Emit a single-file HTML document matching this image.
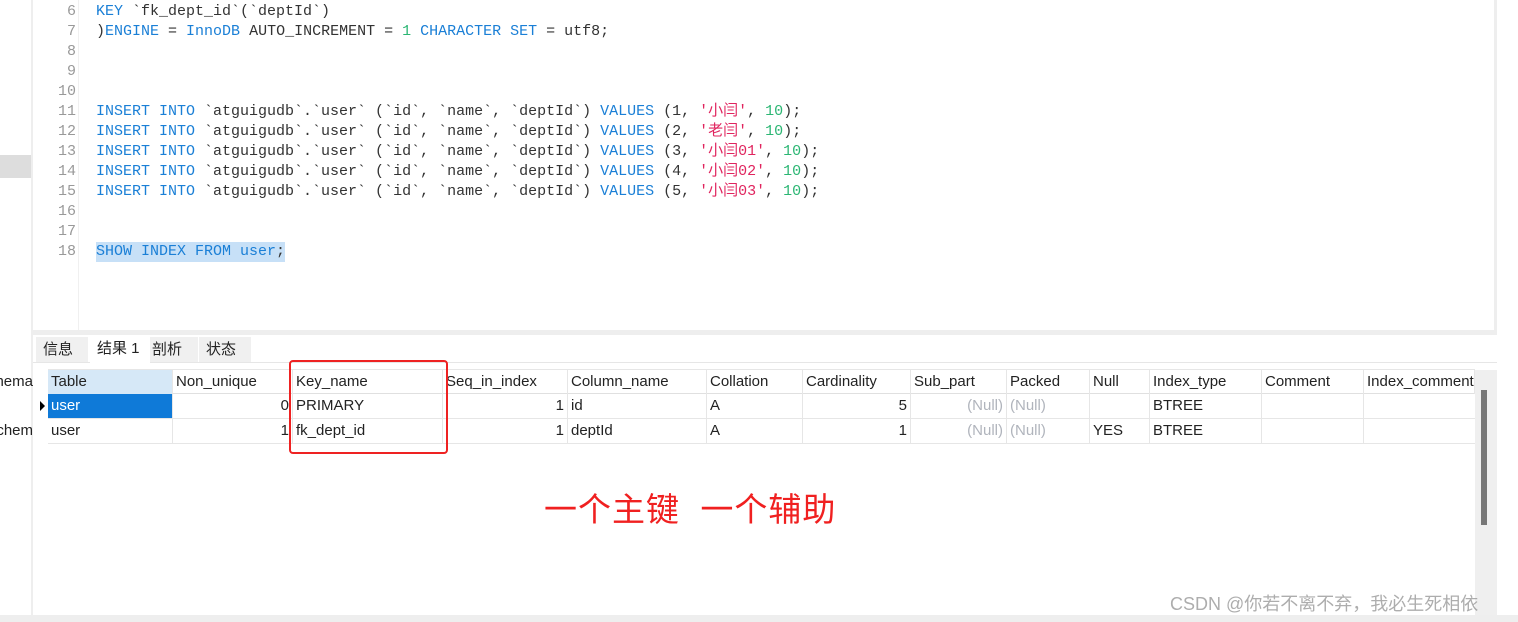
<!DOCTYPE html>
<html><head><meta charset="utf-8"><style>
body{margin:0;width:1518px;height:622px;background:#fff;position:relative;overflow:hidden;font-family:"Liberation Sans","Noto Sans CJK SC",sans-serif}
.a{position:absolute}
.code{font-family:"Liberation Mono","Noto Sans CJK SC",monospace;font-size:15px;line-height:20px;white-space:pre;color:#333}
.k{color:#1a7fd6}.n{color:#2bb673}.s{color:#e0245e}
.ln{font-family:"Liberation Mono",monospace;font-size:15px;line-height:20px;color:#999;text-align:right;width:44px}
.g{font-size:15px;color:#222;white-space:nowrap}
.c{position:absolute;height:24px;line-height:24px;padding:0 3px;box-sizing:border-box;border-right:1px solid #e6e6e6}
.nl{color:#b0b4bc}
</style></head><body>
<div class="a" style="left:0;top:155px;width:31px;height:23px;background:#ddd"></div>
<div class="a" style="left:31px;top:0;width:2px;height:622px;background:#eee"></div>
<div class="a" style="left:1494px;top:0;width:3px;height:335px;background:#eee"></div>
<div class="a ln" style="left:32px;top:2px">6<br>7<br>8<br>9<br>10<br>11<br>12<br>13<br>14<br>15<br>16<br>17<br>18</div>
<div class="a" style="left:78px;top:0;width:1px;height:330px;background:#f0f0f0"></div>
<div class="a" style="left:96px;top:242px;width:189px;height:20px;background:#c7e0f7"></div>
<div class="a code" style="left:96px;top:2px"><span class="k">KEY</span> `fk_dept_id`(`deptId`)
)<span class="k">ENGINE</span> = <span class="k">InnoDB</span> AUTO_INCREMENT = <span class="n">1</span> <span class="k">CHARACTER SET</span> = utf8;



<span class="k">INSERT INTO</span> `atguigudb`.`user` (`id`, `name`, `deptId`) <span class="k">VALUES</span> (1, <span class="s">'小闫'</span>, <span class="n">10</span>);
<span class="k">INSERT INTO</span> `atguigudb`.`user` (`id`, `name`, `deptId`) <span class="k">VALUES</span> (2, <span class="s">'老闫'</span>, <span class="n">10</span>);
<span class="k">INSERT INTO</span> `atguigudb`.`user` (`id`, `name`, `deptId`) <span class="k">VALUES</span> (3, <span class="s">'小闫01'</span>, <span class="n">10</span>);
<span class="k">INSERT INTO</span> `atguigudb`.`user` (`id`, `name`, `deptId`) <span class="k">VALUES</span> (4, <span class="s">'小闫02'</span>, <span class="n">10</span>);
<span class="k">INSERT INTO</span> `atguigudb`.`user` (`id`, `name`, `deptId`) <span class="k">VALUES</span> (5, <span class="s">'小闫03'</span>, <span class="n">10</span>);


<span class="k">SHOW INDEX FROM user</span>;</div>
<div class="a" style="left:33px;top:330px;width:1464px;height:5px;background:#eee"></div>
<div class="a" style="left:33px;top:335px;width:1464px;height:27px;background:#fff;border-bottom:1px solid #e6e6e6"></div>
<div class="a g" style="left:36px;top:337px;width:52px;height:25px;background:#f0f0f0;line-height:26px;padding-left:7px;box-sizing:border-box">信息</div>
<div class="a g" style="left:90px;top:336px;width:60px;height:27px;background:#fff;line-height:26px;padding-left:7px;box-sizing:border-box">结果 1</div>
<div class="a g" style="left:150px;top:337px;width:48px;height:25px;background:#f0f0f0;line-height:26px;padding-left:2px;box-sizing:border-box">剖析</div>
<div class="a g" style="left:199px;top:337px;width:52px;height:25px;background:#f0f0f0;line-height:26px;padding-left:7px;box-sizing:border-box">状态</div>
<div class="a g" style="left:0;top:370px;line-height:24px;width:33px;overflow:hidden;direction:rtl">schema</div>
<div class="a g" style="left:0;top:419px;line-height:24px;width:33px;overflow:hidden;direction:rtl">schem</div>
<div class="a" style="left:33px;top:363px;width:1444px;height:253px;background:#fff"></div>
<div class="a" style="left:1475px;top:370px;width:22px;height:246px;background:#efefef"></div>
<div class="a" style="left:1481px;top:390px;width:6px;height:135px;background:#777"></div>
<div class="a" style="left:0;top:615px;width:1518px;height:7px;background:#eee"></div>
<div class="a g" style="left:0;top:0">
<div class="a" style="left:48px;top:369px;width:1427px;height:1px;background:#e6e6e6"></div>
<div class="a" style="left:48px;top:393px;width:1427px;height:1px;background:#e0e0e0"></div>
<div class="a" style="left:48px;top:418px;width:1427px;height:1px;background:#e6e6e6"></div>
<div class="a" style="left:48px;top:443px;width:1427px;height:1px;background:#e6e6e6"></div>
<div class="c" style="left:48px;top:370px;width:125px;background:#d6e8f7">Table</div>
<div class="c" style="left:173px;top:370px;width:120px">Non_unique</div>
<div class="c" style="left:293px;top:370px;width:150px">Key_name</div>
<div class="c" style="left:443px;top:370px;width:125px">Seq_in_index</div>
<div class="c" style="left:568px;top:370px;width:139px">Column_name</div>
<div class="c" style="left:707px;top:370px;width:96px">Collation</div>
<div class="c" style="left:803px;top:370px;width:108px">Cardinality</div>
<div class="c" style="left:911px;top:370px;width:96px">Sub_part</div>
<div class="c" style="left:1007px;top:370px;width:83px">Packed</div>
<div class="c" style="left:1090px;top:370px;width:60px">Null</div>
<div class="c" style="left:1150px;top:370px;width:112px">Index_type</div>
<div class="c" style="left:1262px;top:370px;width:102px">Comment</div>
<div class="c" style="left:1364px;top:370px;width:111px;overflow:hidden">Index_comment</div>
<div class="a" style="left:40px;top:401px;width:0;height:0;border-left:5px solid #000;border-top:5px solid transparent;border-bottom:5px solid transparent"></div>
<div class="c" style="left:48px;top:394px;width:125px;background:#0f7ad8;color:#fff">user</div>
<div class="c" style="left:173px;top:394px;width:120px;text-align:right">0</div>
<div class="c" style="left:293px;top:394px;width:150px">PRIMARY</div>
<div class="c" style="left:443px;top:394px;width:125px;text-align:right">1</div>
<div class="c" style="left:568px;top:394px;width:139px">id</div>
<div class="c" style="left:707px;top:394px;width:96px">A</div>
<div class="c" style="left:803px;top:394px;width:108px;text-align:right">5</div>
<div class="c nl" style="left:911px;top:394px;width:96px;text-align:right">(Null)</div>
<div class="c nl" style="left:1007px;top:394px;width:83px">(Null)</div>
<div class="c" style="left:1090px;top:394px;width:60px"></div>
<div class="c" style="left:1150px;top:394px;width:112px">BTREE</div>
<div class="c" style="left:1262px;top:394px;width:102px"></div>
<div class="c" style="left:48px;top:419px;width:125px">user</div>
<div class="c" style="left:173px;top:419px;width:120px;text-align:right">1</div>
<div class="c" style="left:293px;top:419px;width:150px">fk_dept_id</div>
<div class="c" style="left:443px;top:419px;width:125px;text-align:right">1</div>
<div class="c" style="left:568px;top:419px;width:139px">deptId</div>
<div class="c" style="left:707px;top:419px;width:96px">A</div>
<div class="c" style="left:803px;top:419px;width:108px;text-align:right">1</div>
<div class="c nl" style="left:911px;top:419px;width:96px;text-align:right">(Null)</div>
<div class="c nl" style="left:1007px;top:419px;width:83px">(Null)</div>
<div class="c" style="left:1090px;top:419px;width:60px">YES</div>
<div class="c" style="left:1150px;top:419px;width:112px">BTREE</div>
<div class="c" style="left:1262px;top:419px;width:102px"></div>
</div>
<div class="a" style="left:289px;top:360px;width:155px;height:90px;border:2.5px solid #ee2222;border-radius:4px"></div>
<div class="a" style="left:544px;top:489px;font-size:33px;letter-spacing:1px;color:#f02020;white-space:nowrap;line-height:42px">一个主键&nbsp; 一个辅助</div>
<div class="a" style="left:1170px;top:590px;font-size:18px;color:#999;white-space:nowrap;opacity:.8">CSDN @你若不离不弃，我必生死相依</div>
</body></html>
